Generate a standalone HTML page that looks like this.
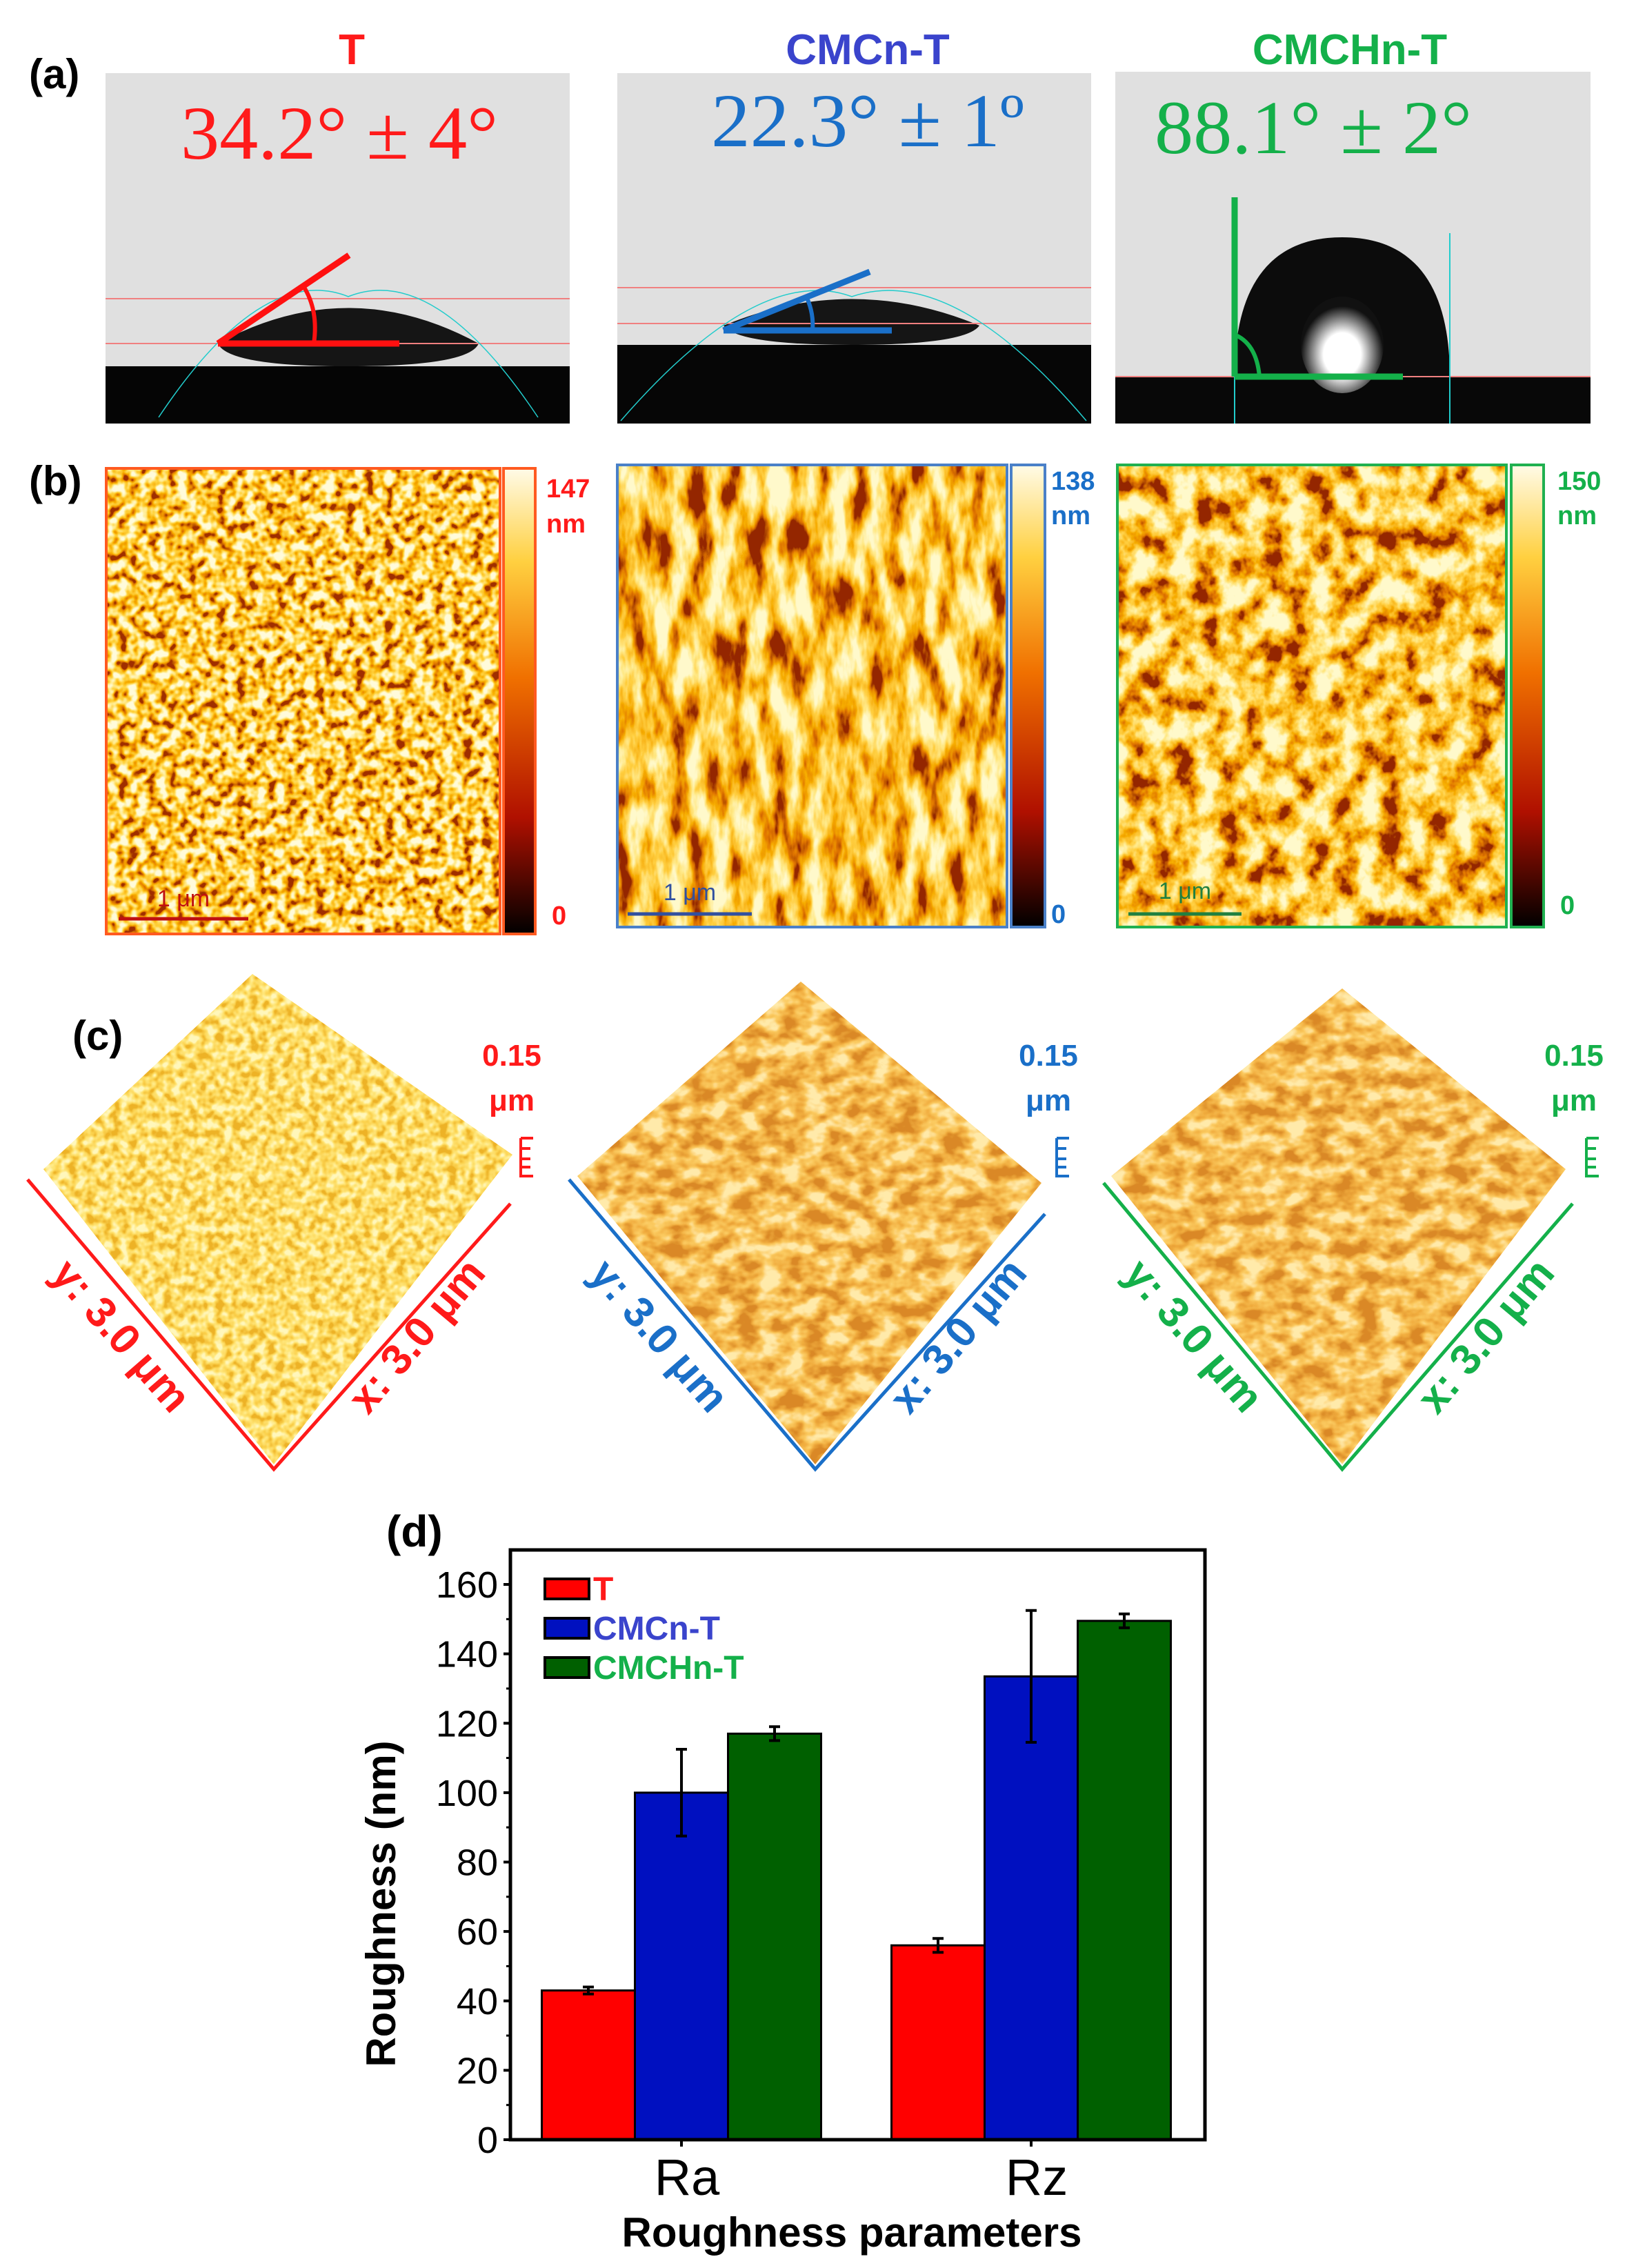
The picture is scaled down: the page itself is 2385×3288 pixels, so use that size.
<!DOCTYPE html>
<html><head><meta charset="utf-8"><style>
html,body{margin:0;padding:0;background:#fff;}
svg{display:block;}
text{font-family:"Liberation Sans",Arial,sans-serif;}
text.serif{font-family:"Liberation Serif","DejaVu Serif",serif;}
</style></head><body>
<svg id="fig" width="2385" height="3288" viewBox="0 0 2385 3288" xmlns="http://www.w3.org/2000/svg">
<defs>
<filter id="afmDots" x="0" y="0" width="100%" height="100%">
<feTurbulence type="fractalNoise" baseFrequency="0.07" numOctaves="2" seed="4"/>
<feColorMatrix type="matrix" values="1 0 0 0 0 1 0 0 0 0 1 0 0 0 0 0 0 0 0 1"/>
<feComponentTransfer><feFuncR type="linear" slope="2.6" intercept="-0.75"/><feFuncG type="linear" slope="2.6" intercept="-0.75"/><feFuncB type="linear" slope="2.6" intercept="-0.75"/></feComponentTransfer>
<feComponentTransfer><feFuncR type="table" tableValues="0.35 0.8 0.95 1 1 1"/><feFuncG type="table" tableValues="0.03 0.22 0.45 0.66 0.85 0.97"/><feFuncB type="table" tableValues="0 0 0 0.05 0.3 0.7"/></feComponentTransfer>
</filter>
<filter id="afmFib" x="0" y="0" width="100%" height="100%">
<feTurbulence type="fractalNoise" baseFrequency="0.035 0.012" numOctaves="4" seed="7"/>
<feColorMatrix type="matrix" values="1 0 0 0 0 1 0 0 0 0 1 0 0 0 0 0 0 0 0 1"/>
<feComponentTransfer><feFuncR type="linear" slope="2.4" intercept="-0.65"/><feFuncG type="linear" slope="2.4" intercept="-0.65"/><feFuncB type="linear" slope="2.4" intercept="-0.65"/></feComponentTransfer>
<feComponentTransfer><feFuncR type="table" tableValues="0.3 0.75 0.93 1 1 1"/><feFuncG type="table" tableValues="0.02 0.18 0.42 0.62 0.82 0.95"/><feFuncB type="table" tableValues="0 0 0 0.05 0.25 0.6"/></feComponentTransfer>
</filter>
<filter id="afmFib2" x="0" y="0" width="100%" height="100%">
<feTurbulence type="fractalNoise" baseFrequency="0.03 0.025" numOctaves="4" seed="11"/>
<feColorMatrix type="matrix" values="1 0 0 0 0 1 0 0 0 0 1 0 0 0 0 0 0 0 0 1"/>
<feComponentTransfer><feFuncR type="linear" slope="2.4" intercept="-0.65"/><feFuncG type="linear" slope="2.4" intercept="-0.65"/><feFuncB type="linear" slope="2.4" intercept="-0.65"/></feComponentTransfer>
<feComponentTransfer><feFuncR type="table" tableValues="0.3 0.75 0.93 1 1 1"/><feFuncG type="table" tableValues="0.02 0.18 0.42 0.62 0.82 0.95"/><feFuncB type="table" tableValues="0 0 0 0.05 0.25 0.6"/></feComponentTransfer>
</filter>
<filter id="surfY" x="0" y="0" width="100%" height="100%">
<feTurbulence type="fractalNoise" baseFrequency="0.08" numOctaves="2" seed="2"/>
<feColorMatrix type="matrix" values="1 0 0 0 0 1 0 0 0 0 1 0 0 0 0 0 0 0 0 1"/>
<feComponentTransfer><feFuncR type="linear" slope="2.5" intercept="-0.75"/><feFuncG type="linear" slope="2.5" intercept="-0.75"/><feFuncB type="linear" slope="2.5" intercept="-0.75"/></feComponentTransfer>
<feComponentTransfer><feFuncR type="table" tableValues="0.85 0.97 1 1"/><feFuncG type="table" tableValues="0.45 0.65 0.8 0.93"/><feFuncB type="table" tableValues="0.02 0.08 0.2 0.5"/></feComponentTransfer>
</filter>
<filter id="surfO" x="0" y="0" width="100%" height="100%">
<feTurbulence type="fractalNoise" baseFrequency="0.03 0.045" numOctaves="3" seed="9"/>
<feColorMatrix type="matrix" values="1 0 0 0 0 1 0 0 0 0 1 0 0 0 0 0 0 0 0 1"/>
<feComponentTransfer><feFuncR type="linear" slope="2.5" intercept="-0.75"/><feFuncG type="linear" slope="2.5" intercept="-0.75"/><feFuncB type="linear" slope="2.5" intercept="-0.75"/></feComponentTransfer>
<feComponentTransfer><feFuncR type="table" tableValues="0.7 0.88 0.97 1"/><feFuncG type="table" tableValues="0.25 0.42 0.6 0.82"/><feFuncB type="table" tableValues="0.02 0.05 0.12 0.4"/></feComponentTransfer>
</filter>
<linearGradient id="cbar" x1="0" y1="1" x2="0" y2="0">
<stop offset="0" stop-color="#000"/><stop offset="0.25" stop-color="#b01000"/><stop offset="0.55" stop-color="#f07000"/><stop offset="0.8" stop-color="#ffd040"/><stop offset="1" stop-color="#fffbe8"/>
</linearGradient>
<radialGradient id="dropHi" cx="0.5" cy="0.6" r="0.5">
<stop offset="0" stop-color="#fff"/><stop offset="0.45" stop-color="#fff"/><stop offset="1" stop-color="#111"/>
</radialGradient>
<clipPath id="c1clip"><polygon points="63,1695 366,1412 743,1674 397,2123"/></clipPath>
<clipPath id="c2clip"><polygon points="837,1705 1161,1423 1510,1715 1182,2123"/></clipPath>
<clipPath id="c3clip"><polygon points="1611,1705 1946,1433 2270,1695 1946,2123"/></clipPath>
</defs>

<!-- Panel (a) -->
<text x="42" y="128" font-size="60" font-weight="bold">(a)</text>
<text x="510" y="93" font-size="62" font-weight="bold" fill="#ff1a1a" text-anchor="middle">T</text>
<text x="1258" y="93" font-size="62" font-weight="bold" fill="#3a44cc" text-anchor="middle">CMCn-T</text>
<text x="1957" y="93" font-size="62" font-weight="bold" fill="#14b04a" text-anchor="middle">CMCHn-T</text>

<g>
<rect x="153" y="106" width="673" height="508" fill="#e0e0e0"/>
<rect x="153" y="531" width="673" height="83" fill="#050505"/>
<path d="M316,498 Q505,395 694,498 Q680,531 505,531 Q330,531 316,498 Z" fill="#151515"/>
<line x1="153" y1="433" x2="826" y2="433" stroke="#f08080" stroke-width="2"/>
<line x1="153" y1="498" x2="826" y2="498" stroke="#f08080" stroke-width="2"/>
<path d="M230,605 Q380,380 505,430 Q630,380 780,605" fill="none" stroke="#2cc" stroke-width="1.5"/>
<line x1="316" y1="498" x2="579" y2="498" stroke="#ff1010" stroke-width="9"/>
<line x1="316" y1="498" x2="506" y2="370" stroke="#ff1010" stroke-width="9"/>
<path d="M440,415 Q462,450 455,498" fill="none" stroke="#ff1010" stroke-width="6"/>
<text class="serif" x="492" y="230" font-size="110" fill="#ff1a1a" text-anchor="middle" textLength="460" lengthAdjust="spacingAndGlyphs">34.2° ± 4°</text>
</g>

<g>
<rect x="895" y="106" width="687" height="508" fill="#e0e0e0"/>
<rect x="895" y="500" width="687" height="114" fill="#060606"/>
<path d="M1049,472 Q1235,395 1420,472 Q1400,500 1235,500 Q1070,500 1049,472 Z" fill="#151515"/>
<line x1="895" y1="417" x2="1582" y2="417" stroke="#f08080" stroke-width="2"/>
<line x1="895" y1="469" x2="1582" y2="469" stroke="#f08080" stroke-width="2"/>
<path d="M900,610 Q1100,380 1235,430 Q1380,380 1575,610" fill="none" stroke="#2cc" stroke-width="1.5"/>
<line x1="1049" y1="479" x2="1293" y2="479" stroke="#1a6fc8" stroke-width="9"/>
<line x1="1049" y1="479" x2="1261" y2="394" stroke="#1a6fc8" stroke-width="9"/>
<path d="M1170,432 Q1180,455 1178,479" fill="none" stroke="#1a6fc8" stroke-width="6"/>
<text class="serif" x="1258" y="212" font-size="110" fill="#1a6fc8" text-anchor="middle" textLength="454" lengthAdjust="spacingAndGlyphs">22.3° ± 1º</text>
</g>

<g>
<rect x="1617" y="104" width="689" height="510" fill="#e0e0e0"/>
<rect x="1617" y="545" width="689" height="69" fill="#080808"/>
<path d="M1790,546 C1790,430 1830,344 1946,344 C2062,344 2102,430 2102,546 Z" fill="#0c0c0c"/>
<ellipse cx="1946" cy="500" rx="60" ry="70" fill="url(#dropHi)"/>
<line x1="1617" y1="546" x2="2306" y2="546" stroke="#f08080" stroke-width="2"/>
<line x1="2102" y1="338" x2="2102" y2="614" stroke="#2cc" stroke-width="2"/>
<line x1="1790" y1="460" x2="1790" y2="614" stroke="#2cc" stroke-width="2"/>
<line x1="1790" y1="286" x2="1790" y2="546" stroke="#14b04a" stroke-width="9"/>
<line x1="1790" y1="546" x2="2034" y2="546" stroke="#14b04a" stroke-width="9"/>
<path d="M1792,486 Q1822,500 1826,546" fill="none" stroke="#14b04a" stroke-width="6"/>
<text class="serif" x="1904" y="222" font-size="110" fill="#14b04a" text-anchor="middle" textLength="460" lengthAdjust="spacingAndGlyphs">88.1° ± 2°</text>
</g>

<!-- Panel (b) -->
<text x="42" y="718" font-size="60" font-weight="bold">(b)</text>
<g>
<rect x="154" y="679" width="571" height="675" filter="url(#afmDots)"/>
<rect x="154" y="679" width="571" height="675" fill="none" stroke="#ff5a20" stroke-width="4"/>
<rect x="730" y="679" width="46" height="675" fill="url(#cbar)" stroke="#ff5a20" stroke-width="4"/>
<line x1="172" y1="1332" x2="360" y2="1332" stroke="#c01010" stroke-width="5"/>
<text x="266" y="1314" font-size="34" fill="#c01010" text-anchor="middle">1 μm</text>
<text x="792" y="721" font-size="38" font-weight="bold" fill="#ff1a1a">147</text>
<text x="792" y="772" font-size="38" font-weight="bold" fill="#ff1a1a">nm</text>
<text x="800" y="1340" font-size="38" font-weight="bold" fill="#ff1a1a">0</text>
</g>
<g>
<rect x="895" y="674" width="565" height="670" filter="url(#afmFib)"/>
<rect x="895" y="674" width="565" height="670" fill="none" stroke="#4a80c8" stroke-width="4"/>
<rect x="1466" y="674" width="49" height="670" fill="url(#cbar)" stroke="#4a80c8" stroke-width="4"/>
<line x1="910" y1="1325" x2="1090" y2="1325" stroke="#3050a0" stroke-width="5"/>
<text x="1000" y="1305" font-size="34" fill="#3050a0" text-anchor="middle">1 μm</text>
<text x="1524" y="710" font-size="38" font-weight="bold" fill="#1a6fc8">138</text>
<text x="1524" y="760" font-size="38" font-weight="bold" fill="#1a6fc8">nm</text>
<text x="1524" y="1338" font-size="38" font-weight="bold" fill="#1a6fc8">0</text>
</g>
<g>
<rect x="1620" y="674" width="564" height="670" filter="url(#afmFib2)"/>
<rect x="1620" y="674" width="564" height="670" fill="none" stroke="#20b050" stroke-width="4"/>
<rect x="2191" y="674" width="47" height="670" fill="url(#cbar)" stroke="#20b050" stroke-width="4"/>
<line x1="1636" y1="1325" x2="1800" y2="1325" stroke="#208040" stroke-width="5"/>
<text x="1718" y="1303" font-size="34" fill="#208040" text-anchor="middle">1 μm</text>
<text x="2258" y="710" font-size="38" font-weight="bold" fill="#14b04a">150</text>
<text x="2258" y="760" font-size="38" font-weight="bold" fill="#14b04a">nm</text>
<text x="2262" y="1325" font-size="38" font-weight="bold" fill="#14b04a">0</text>
</g>

<!-- Panel (c) -->
<text x="105" y="1522" font-size="60" font-weight="bold">(c)</text>
<g>
<rect x="50" y="1400" width="710" height="730" filter="url(#surfY)" clip-path="url(#c1clip)"/>
<polyline points="40,1710 397,2130 740,1745" fill="none" stroke="#ff1a1a" stroke-width="5"/>
<path d="M755,1650 v55 h18 M755,1665 h14 M755,1680 h14 M755,1692 h14 M755,1650 h18" fill="none" stroke="#ff1a1a" stroke-width="4"/>
<text x="742" y="1545" font-size="44" font-weight="bold" fill="#ff1a1a" text-anchor="middle">0.15</text>
<text x="742" y="1610" font-size="44" font-weight="bold" fill="#ff1a1a" text-anchor="middle">μm</text>
<text transform="translate(160,1950) rotate(49)" font-size="62" font-weight="bold" fill="#ff1a1a" text-anchor="middle">y: 3.0 μm</text>
<text transform="translate(620,1950) rotate(-50)" font-size="62" font-weight="bold" fill="#ff1a1a" text-anchor="middle">x: 3.0 μm</text>
</g>
<g>
<rect x="830" y="1410" width="690" height="720" filter="url(#surfO)" clip-path="url(#c2clip)"/>
<polyline points="825,1710 1182,2130 1515,1760" fill="none" stroke="#1a6fc8" stroke-width="5"/>
<path d="M1532,1650 v55 h18 M1532,1665 h14 M1532,1680 h14 M1532,1692 h14 M1532,1650 h18" fill="none" stroke="#1a6fc8" stroke-width="4"/>
<text x="1520" y="1545" font-size="44" font-weight="bold" fill="#1a6fc8" text-anchor="middle">0.15</text>
<text x="1520" y="1610" font-size="44" font-weight="bold" fill="#1a6fc8" text-anchor="middle">μm</text>
<text transform="translate(940,1950) rotate(49)" font-size="62" font-weight="bold" fill="#1a6fc8" text-anchor="middle">y: 3.0 μm</text>
<text transform="translate(1405,1950) rotate(-50)" font-size="62" font-weight="bold" fill="#1a6fc8" text-anchor="middle">x: 3.0 μm</text>
</g>
<g>
<rect x="1600" y="1420" width="680" height="710" filter="url(#surfO)" clip-path="url(#c3clip)"/>
<polyline points="1600,1715 1946,2130 2280,1745" fill="none" stroke="#14b04a" stroke-width="5"/>
<path d="M2300,1650 v55 h18 M2300,1665 h14 M2300,1680 h14 M2300,1692 h14 M2300,1650 h18" fill="none" stroke="#14b04a" stroke-width="4"/>
<text x="2282" y="1545" font-size="44" font-weight="bold" fill="#14b04a" text-anchor="middle">0.15</text>
<text x="2282" y="1610" font-size="44" font-weight="bold" fill="#14b04a" text-anchor="middle">μm</text>
<text transform="translate(1715,1950) rotate(49)" font-size="62" font-weight="bold" fill="#14b04a" text-anchor="middle">y: 3.0 μm</text>
<text transform="translate(2170,1950) rotate(-50)" font-size="62" font-weight="bold" fill="#14b04a" text-anchor="middle">x: 3.0 μm</text>
</g>

<!-- Panel (d) -->
<text x="560" y="2242" font-size="64" font-weight="bold">(d)</text>
<g id="chart"></g>
</svg>
<script>
const categories = ['Ra', 'Rz'];
const seriesNames = ['T', 'CMCn-T', 'CMCHn-T'];
const valuesT = [43, 56];
const valuesCMCn = [100, 133.5];
const valuesCMCHn = [117, 149.5];
const errorsT = [1, 2];
const errorsCMCn = [12.5, 19];
const errorsCMCHn = [2, 2];
const yTickLabels = [0, 20, 40, 60, 80, 100, 120, 140, 160];

const NS = 'http://www.w3.org/2000/svg';
const g = document.getElementById('chart');
const L = 740, R = 1747, T = 2247, B = 3102;
const Y0 = 3102, PX_PER = 805 / 160;
const yScale = v => Y0 - v * PX_PER;
const xCenter = i => 988 + i * 507;
const BW = 135;
const fills = ['#ff0000', '#0010c0', '#006000'];
const textColors = ['#ff1a1a', '#3a44cc', '#14b04a'];
const allValues = [valuesT, valuesCMCn, valuesCMCHn];
const allErrors = [errorsT, errorsCMCn, errorsCMCHn];
const seriesKeys = ['t', 'cmcn-t', 'cmchn-t'];

function mk(tag, attrs) {
  const e = document.createElementNS(NS, tag);
  for (const k in attrs) e.setAttribute(k, attrs[k]);
  g.appendChild(e);
  return e;
}

allValues.forEach((vals, s) => {
  vals.forEach((v, i) => {
    const x = xCenter(i) - 1.5 * BW + s * BW;
    const bar = mk('rect', {x: x, y: yScale(v), width: BW, height: Y0 - yScale(v), fill: fills[s], stroke: '#000', 'stroke-width': 3});
    
    
    const e = allErrors[s][i];
    const cx = x + BW / 2;
    const eb = mk('path', {d: 'M' + cx + ',' + yScale(v + e) + 'V' + yScale(v - e) + 'M' + (cx - 8) + ',' + yScale(v + e) + 'h16M' + (cx - 8) + ',' + yScale(v - e) + 'h16', stroke: '#000', 'stroke-width': 4, fill: 'none'});
    
    
  });
});

const frame = mk('rect', {x: L, y: T, width: R - L, height: B - T, fill: 'none', stroke: '#000', 'stroke-width': 5});



yTickLabels.forEach((t, k) => {
  const y = yScale(t);
  const tk = mk('line', {x1: L - 10, x2: L, y1: y, y2: y, stroke: '#000', 'stroke-width': 4});
  
  
  if (k < yTickLabels.length - 1) {
    const ym = yScale(t + 10);
    const mt = mk('line', {x1: L - 6, x2: L, y1: ym, y2: ym, stroke: '#000', 'stroke-width': 3});
    
    
  }
  const lb = mk('text', {x: L - 18, y: y + 19, 'font-size': 54, 'text-anchor': 'end', fill: '#000'});
  lb.textContent = t;
  
  
});

categories.forEach((c, i) => {
  const x = xCenter(i);
  const tk = mk('line', {x1: x, x2: x, y1: B, y2: B + 10, stroke: '#000', 'stroke-width': 4});
  
  
  const lb = mk('text', {x: x + 8, y: 3182, 'font-size': 74, 'text-anchor': 'middle', fill: '#000'});
  lb.textContent = c;
  
  
});

const xt = mk('text', {x: 1235, y: 3257, 'font-size': 60, 'font-weight': 'bold', 'text-anchor': 'middle'});
xt.textContent = 'Roughness parameters';


const yt = mk('text', {x: 0, y: 0, 'font-size': 60, 'font-weight': 'bold', 'text-anchor': 'middle', transform: 'translate(573,2760) rotate(-90)'});
yt.textContent = 'Roughness (nm)';



seriesNames.forEach((n, s) => {
  const cy = 2303 + s * 57;
  const sw = mk('rect', {x: 790, y: cy - 14, width: 64, height: 29, fill: fills[s], stroke: '#000', 'stroke-width': 4});
  
  
  const lt = mk('text', {x: 860, y: cy + 17, 'font-size': 48, 'font-weight': 'bold', fill: textColors[s]});
  lt.textContent = n;
  
  
});
</script>
</body></html>
